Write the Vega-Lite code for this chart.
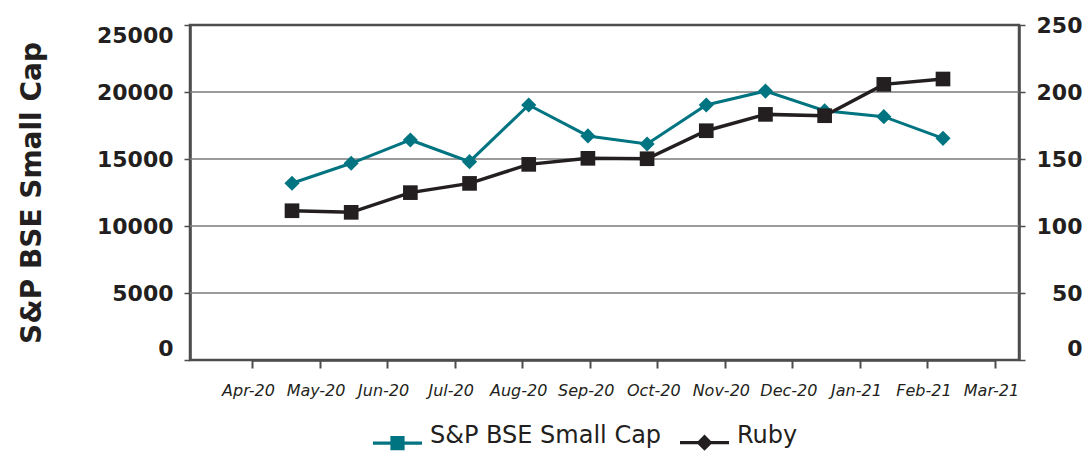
{
  "$schema": "https://vega.github.io/schema/vega-lite/v6.json",
  "width": 829,
  "height": 335,
  "autosize": {"type": "none"},
  "padding": {"left": 190, "top": 25, "right": 67, "bottom": 91},
  "background": "white",
  "config": {
    "font": "DejaVu Sans",
    "view": {"stroke": "#4d4d4d", "strokeWidth": 2.5}
  },
  "data": {
    "values": [
      {"month": "Apr-20", "sp": 13190, "ruby": 111.4},
      {"month": "May-20", "sp": 14680, "ruby": 110.2},
      {"month": "Jun-20", "sp": 16420, "ruby": 124.9},
      {"month": "Jul-20", "sp": 14800, "ruby": 131.8},
      {"month": "Aug-20", "sp": 19030, "ruby": 146.0},
      {"month": "Sep-20", "sp": 16720, "ruby": 150.5},
      {"month": "Oct-20", "sp": 16120, "ruby": 150.2},
      {"month": "Nov-20", "sp": 19030, "ruby": 171.1},
      {"month": "Dec-20", "sp": 20070, "ruby": 183.3},
      {"month": "Jan-21", "sp": 18600, "ruby": 182.3},
      {"month": "Feb-21", "sp": 18160, "ruby": 205.7},
      {"month": "Mar-21", "sp": 16540, "ruby": 209.7}
    ]
  },
  "layer": [
    {
      "layer": [
        {
          "layer": [
            {
              "data": {"values": [{"grid": 5000}, {"grid": 10000}, {"grid": 15000}, {"grid": 20000}]},
              "mark": {"type": "rule", "color": "#7a7a7a", "strokeWidth": 1.5},
              "encoding": {
                "y": {
                  "field": "grid", "type": "quantitative", "title": "S&P BSE Small Cap",
                  "scale": {"domain": [0, 25000], "nice": false},
                  "axis": {
                    "orient": "left", "values": [0, 5000, 10000, 15000, 20000, 25000], "format": "d",
                    "grid": false,
                    "domain": true, "domainColor": "#4d4d4d", "domainWidth": 2.5,
                    "ticks": true, "tickColor": "#4d4d4d", "tickSize": 6, "tickWidth": 1.5,
                    "labelFont": "DejaVu Sans", "labelFontWeight": "bold", "labelFontSize": 22, "labelColor": "#231f20",
                    "labelPadding": 11, "labelFlush": true,
                    "title": "S&P BSE Small Cap", "titleFont": "DejaVu Sans", "titleFontSize": 28, "titleFontWeight": "bold",
                    "titleColor": "#231f20", "titlePadding": 50
                  }
                }
              }
            },
            {
              "mark": {"type": "line", "strokeWidth": 3, "point": {"shape": "diamond", "size": 230, "filled": true, "opacity": 1}},
              "encoding": {
                "x": {"field": "month", "type": "ordinal", "sort": null, "scale": {"type": "point", "padding": 0, "range": [102, 753]}, "axis": null},
                "y": {"field": "sp", "type": "quantitative", "title": "S&P BSE Small Cap"},
                "color": {
                  "datum": "S&P BSE Small Cap",
                  "scale": {"domain": ["S&P BSE Small Cap", "Ruby"], "range": ["#007480", "#231f20"]},
                  "legend": {
                    "orient": "none", "legendX": 183, "legendY": 393, "direction": "horizontal", "title": null,
                    "labelFont": "DejaVu Sans", "labelFontSize": 24, "labelColor": "#231f20", "labelLimit": 400,
                    "labelBaseline": "alphabetic",
                    "symbolSize": 2401, "symbolStrokeWidth": 0, "columnPadding": 18, "labelOffset": 8,
                    "encode": {
                      "symbols": {
                        "update": {
                          "shape": {"signal": "datum.value === 'Ruby' ? 'M-0.33,0L0,-0.33L0.33,0L0,0.33Z M-1,-0.065H1V0.065H-1Z' : 'M-1,-0.065H1V0.065H-1Z M-0.29,-0.29H0.29V0.29H-0.29Z'"},
                          "fill": {"signal": "datum.value === 'Ruby' ? '#231f20' : '#007480'"},
                          "strokeWidth": {"value": 0},
                          "opacity": {"value": 1}
                        }
                      }
                    }
                  }
                }
              }
            }
          ]
        },
        {
          "mark": {"type": "line", "strokeWidth": 3.5, "point": {"shape": "square", "size": 215, "filled": true, "opacity": 1}},
          "encoding": {
            "x": {"field": "month", "type": "ordinal", "sort": null, "scale": {"type": "point", "padding": 0, "range": [102, 753]}, "axis": null},
            "y": {
              "field": "ruby", "type": "quantitative",
              "scale": {"domain": [0, 250], "nice": false},
              "axis": {
                "orient": "right", "values": [0, 50, 100, 150, 200, 250], "format": "d",
                "grid": false,
                "domain": true, "domainColor": "#4d4d4d", "domainWidth": 2.5,
                "ticks": true, "tickColor": "#4d4d4d", "tickSize": 6, "tickWidth": 1.5,
                "labelFont": "DejaVu Sans", "labelFontWeight": "bold", "labelFontSize": 22, "labelColor": "#231f20",
                "labelAlign": "right", "labelPadding": 57, "labelFlush": false,
                "labelBaseline": {"expr": "datum.value == 0 ? 'bottom' : 'middle'"},
                "title": null
              }
            },
            "color": {"datum": "Ruby"}
          }
        }
      ],
      "resolve": {"scale": {"y": "independent"}}
    },
    {
      "mark": {"type": "rule", "opacity": 0},
      "encoding": {
        "x": {
          "field": "month", "type": "ordinal", "sort": null,
          "scale": {"type": "point", "padding": 0, "range": [62, 805]},
          "axis": {
            "orient": "bottom", "labelAngle": 0, "title": null, "grid": false,
            "labelFont": "DejaVu Sans", "labelFontStyle": "italic", "labelFontSize": 16, "labelColor": "#231f20",
            "labelPadding": 14, "labelOffset": -4,
            "domain": true, "domainColor": "#4d4d4d", "domainWidth": 2.5,
            "ticks": true, "tickColor": "#4d4d4d", "tickSize": 8, "tickWidth": 2
          }
        }
      }
    }
  ],
  "resolve": {"scale": {"x": "independent", "y": "independent"}}
}
